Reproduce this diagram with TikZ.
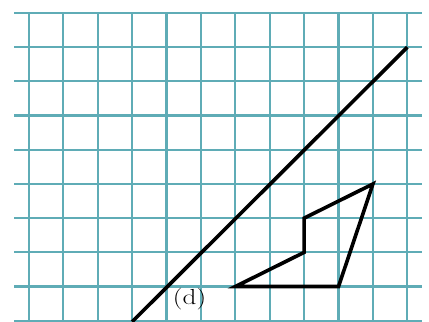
\documentclass[tikz,border=0pt]{standalone}
\usepackage{fontspec}
\begin{document}
\begin{tikzpicture}[x=1cm, y=0.994cm,
    gridline/.style={draw=gridteal, line width=1.8pt},
    figline/.style={draw=black, line width=3pt, line join=miter},
    lbltext/.style={font=\fontsize{18}{18}\selectfont, inner sep=0pt}]
    \definecolor{gridteal}{RGB}{95,172,182}
    \useasboundingbox (-0.84,-0.03) rectangle (11.63,9.38);

    % grid
    \foreach \y in {0,...,9}
        \draw [gridline] (-0.42,\y) -- (11.42,\y);
    \foreach \x in {0,...,11}
        \draw [gridline] (\x,-0.03) -- (\x,9);

    % straight line
    \coordinate (lstart) at (3,-0.03);
    \coordinate (lend) at (11,8);
    \draw [figline] (lstart) -- (lend);

    % polygon
    \coordinate (pa) at (6,1);
    \coordinate (pb) at (9,1);
    \coordinate (pc) at (10,4);
    \coordinate (pd) at (8,3);
    \coordinate (pe) at (8,2);
    \draw [figline] (pa) -- (pb) -- (pc) -- (pd) -- (pe) -- cycle;

    \node (lbl) [lbltext] at (4.67,0.64) {\scalebox{1.25}[1]{(d)}};
\end{tikzpicture}
\end{document}
